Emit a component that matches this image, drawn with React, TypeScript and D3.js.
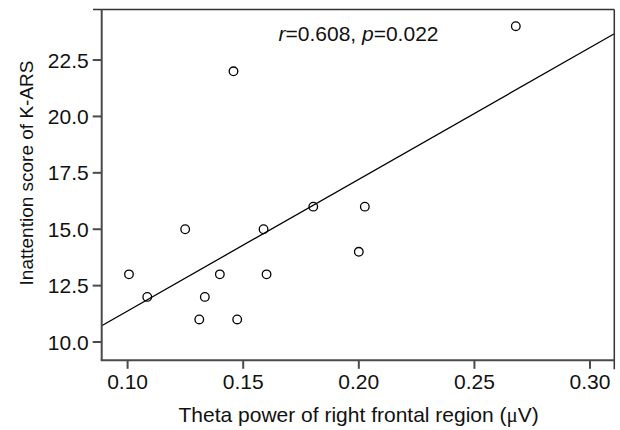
import React from "react";
import * as d3 from "d3";

const thetaPower = [0.1006, 0.1085, 0.1249, 0.131, 0.1334, 0.1399, 0.1458, 0.1474, 0.1588, 0.1601, 0.1803, 0.2, 0.2026, 0.2679];
const inattention = [13, 12, 15, 11, 12, 13, 22, 11, 15, 13, 16, 14, 16, 24];
const xTicks = [0.1, 0.15, 0.2, 0.25, 0.3];
const yTicks = [10, 12.5, 15, 17.5, 20, 22.5];
const fitSlope = 58.37;
const fitIntercept = 5.54;
const xDomain = [0.0888, 0.3105];
const yDomain = [9.19, 24.74];

export default function App() {
  const left = 101.7, right = 614.3, top = 9.5, bottom = 360.3;
  const x = d3.scaleLinear().domain(xDomain).range([left, right]);
  const y = d3.scaleLinear().domain(yDomain).range([bottom, top]);
  const line = d3.line<number>().x((d) => x(d)).y((d) => y(fitIntercept + fitSlope * d));
  const font = "'Liberation Sans', Arial, Helvetica, sans-serif";
  const axisColor = "#4a4a4a";
  return (
    <svg width={620} height={430} style={{ position: "absolute", left: 0, top: 0, background: "#fff" }} fontFamily={font}>
      <path d={line(xDomain) || ""} stroke="#000" strokeWidth={1.3} fill="none" />
      {thetaPower.map((v, i) => (
        <circle key={i} cx={x(v)} cy={y(inattention[i])} r={4.3} fill="none" stroke="#000" strokeWidth={1.3} />
      ))}
      {/* frame top & right */}
      <line x1={93} x2={right} y1={top} y2={top} stroke="#333" strokeWidth={1.5} />
      <line x1={right} x2={right} y1={top} y2={bottom + 9} stroke="#333" strokeWidth={1.5} />
      {/* left axis */}
      <line x1={left} x2={left} y1={top} y2={bottom} stroke={axisColor} strokeWidth={2} />
      {yTicks.map((t) => (
        <g key={t}>
          <line x1={left - 9} x2={left} y1={y(t)} y2={y(t)} stroke={axisColor} strokeWidth={2} />
          <text x={left - 13} y={y(t)} dy="0.36em" textAnchor="end" fontSize={21} fill="#111">
            {d3.format(".1f")(t)}
          </text>
        </g>
      ))}
      {/* bottom axis */}
      <line x1={left - 1} x2={right} y1={bottom} y2={bottom} stroke={axisColor} strokeWidth={2} />
      {xTicks.map((t) => (
        <g key={t}>
          <line x1={x(t)} x2={x(t)} y1={bottom} y2={bottom + 8.5} stroke={axisColor} strokeWidth={2} />
          <text x={x(t)} y={388.5} textAnchor="middle" fontSize={21} fill="#111">
            {d3.format(".2f")(t)}
          </text>
        </g>
      ))}
      <text x={358.7} y={421.5} textAnchor="middle" fontSize={21} fill="#111">
        Theta power of right frontal region (<tspan fontFamily="'Liberation Serif', 'DejaVu Serif', serif">μ</tspan>V)
      </text>
      <text transform="translate(33,173) rotate(-90)" textAnchor="middle" fontSize={19} fill="#111">
        Inattention score of K-ARS
      </text>
      <text x={358.5} y={40.5} textAnchor="middle" fontSize={21} fill="#111">
        <tspan fontStyle="italic">r</tspan>=0.608, <tspan fontStyle="italic">p</tspan>=0.022
      </text>
    </svg>
  );
}
